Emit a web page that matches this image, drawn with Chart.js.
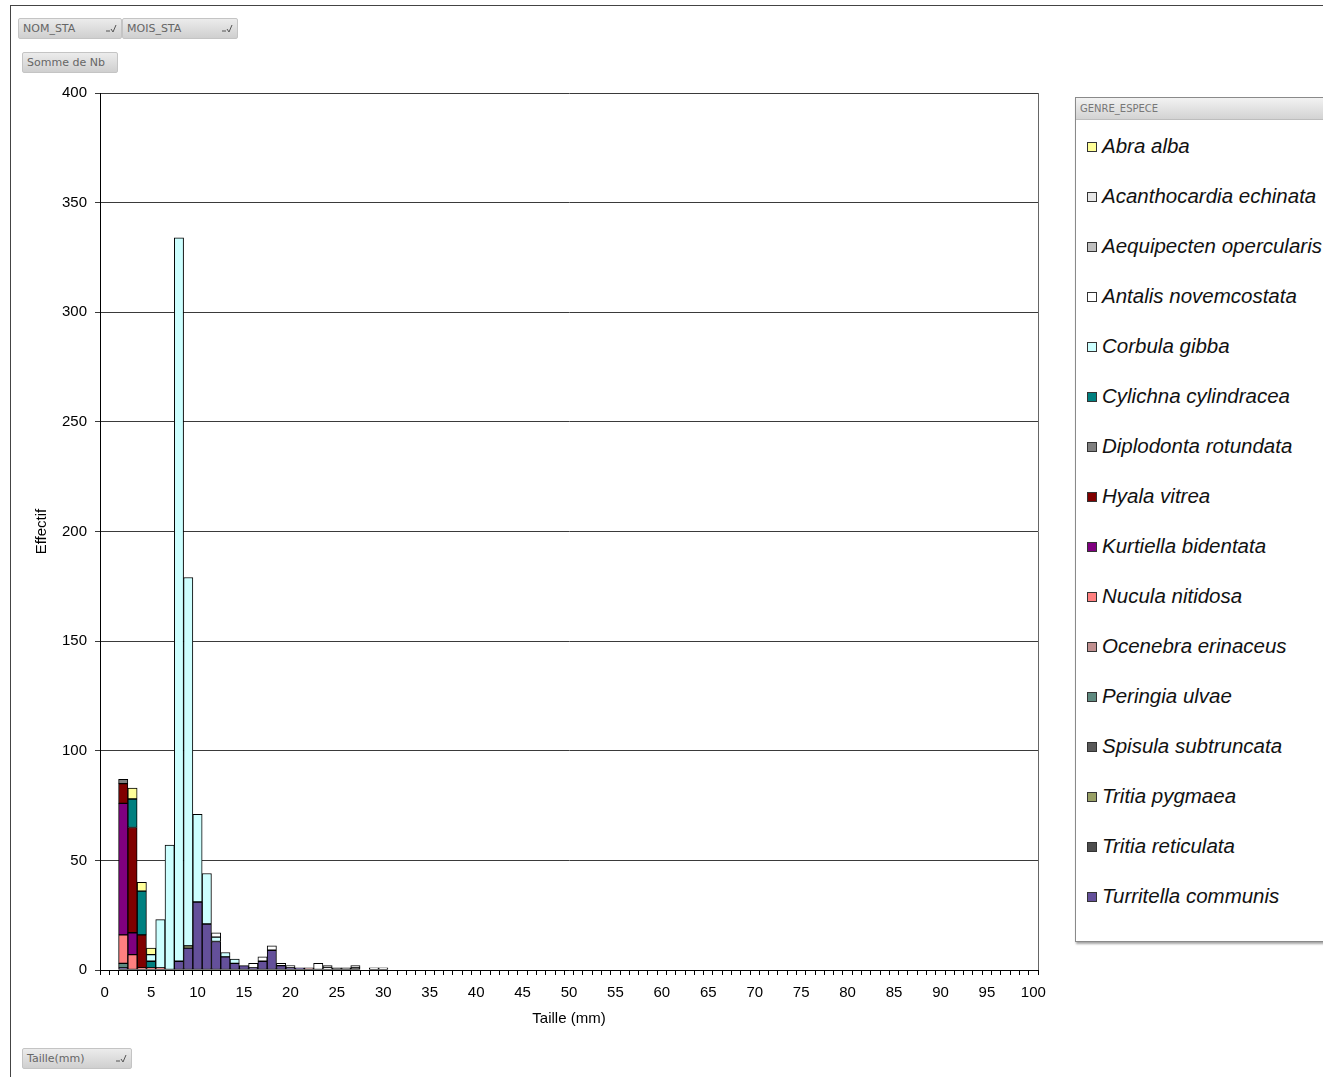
<!DOCTYPE html>
<html>
<head>
<meta charset="utf-8">
<script src="https://cdn.jsdelivr.net/npm/chart.js@4.4.0/dist/chart.umd.min.js"></script>
<style>
  html, body { margin: 0; padding: 0; background: #fff; overflow: hidden; }
  body { width: 1323px; height: 1077px; position: relative; font-family: "Liberation Sans", Arial, sans-serif; }
  #frame { position: absolute; left: 10px; top: 5px; width: 1400px; height: 1200px; border-left: 1px solid #444; border-top: 1px solid #444; }
  .btn { position: absolute; height: 21px; line-height: 20px; font-family: "DejaVu Sans", sans-serif; font-size: 11px; color: #666;
         background: linear-gradient(#ececec, #cfcfcf); border: 1px solid #c4c4c4; border-radius: 2px; padding-left: 4px; box-sizing: border-box; }
  .btn svg { position: absolute; right: 4px; top: 4px; }
  #wrap { position: absolute; left: 14px; top: 76px; width: 1048px; height: 964px; }
  #legend { position: absolute; left: 1075px; top: 97px; width: 280px; height: 843px; border: 1px solid #8a8a8a; background: #fff;
            box-shadow: 1px 2px 2px rgba(0,0,0,0.35); }
  #legend .hdr { height: 21px; line-height: 21px; background: linear-gradient(#f2f2f2, #d3d3d3); border-bottom: 1px solid #bdbdbd;
                 font-family: "DejaVu Sans", sans-serif; font-size: 10px; color: #777; padding-left: 4px; }
  .item { position: absolute; left: 11px; height: 24px; line-height: 24px; font-style: italic; font-size: 20.5px; color: #111; white-space: nowrap; }
  .sw { display: inline-block; width: 8px; height: 8px; border: 1px solid #333; margin-right: 5px; vertical-align: 1px; }
</style>
</head>
<body>
<div id="frame"></div>
<div class="btn" style="left:18px;top:18px;width:104px;">NOM_STA<svg width="12" height="10"><path d="M1 8H5M6 6L8 9L11 2" stroke="#555" fill="none"/></svg></div>
<div class="btn" style="left:122px;top:18px;width:116px;">MOIS_STA<svg width="12" height="10"><path d="M1 8H5M6 6L8 9L11 2" stroke="#555" fill="none"/></svg></div>
<div class="btn" style="left:22px;top:52px;width:96px;">Somme de Nb</div>
<div class="btn" style="left:22px;top:1048px;width:110px;">Taille(mm)<svg width="12" height="10"><path d="M1 8H5M6 6L8 9L11 2" stroke="#555" fill="none"/></svg></div>

<div id="wrap"><canvas id="histo" width="1048" height="964"></canvas></div>
<div id="legend"><div class="hdr">GENRE_ESPECE</div></div>

<script>
// size classes (mm) on the x axis
const sizes = [];
for (let s = 0; s <= 100; s++) sizes.push(String(s));

// counts per size class, index = size in mm (0..30)
//                     0  1  2   3   4  5  6   7    8    9  10  11  12 13 14 15 16 17 18 19 20 21 22 23 24 25 26 27 28 29 30
const abraAlba      = [0, 0, 0,  5,  4, 3, 0,  0,   0,   0,  0,  0,  0, 0, 0, 0, 0, 0, 0, 0, 0, 0, 0, 0, 0, 0, 0, 0, 0, 0, 0];
const acanthocardia = [0, 0, 0,  0,  0, 0, 0,  0,   0,   0,  0,  0,  0, 0, 0, 0, 0, 0, 0, 0, 0, 0, 0, 0, 0, 0, 0, 1, 0, 0, 0];
const aequipecten   = [0, 0, 0,  0,  0, 0, 0,  0,   0,   0,  0,  0,  0, 0, 0, 0, 0, 0, 0, 0, 0, 0, 0, 0, 1, 0, 0, 0, 0, 0, 0];
const antalis       = [0, 0, 0,  0,  0, 0, 0,  0,   0,   0,  0,  0,  2, 0, 0, 0, 2, 2, 2, 1, 1, 0, 0, 3, 1, 0, 0, 0, 0, 1, 1];
const corbula       = [0, 0, 0,  0,  0, 3, 22, 57, 330, 168, 40, 23,  2, 2, 2, 0, 0, 0, 0, 0, 0, 0, 0, 0, 0, 0, 0, 0, 0, 0, 0];
const cylichna      = [0, 0, 0, 13, 20, 3, 0,  0,   0,   0,  0,  0,  0, 0, 0, 0, 0, 0, 0, 0, 0, 0, 0, 0, 0, 0, 0, 0, 0, 0, 0];
const diplodonta    = [0, 0, 2,  0,  0, 0, 0,  0,   0,   0,  0,  0,  0, 0, 0, 0, 0, 0, 0, 0, 0, 0, 0, 0, 0, 0, 1, 0, 0, 0, 0];
const hyala         = [0, 0, 9, 48, 15, 0, 0,  0,   0,   0,  0,  0,  0, 0, 0, 0, 0, 0, 0, 0, 0, 0, 0, 0, 0, 0, 0, 0, 0, 0, 0];
const kurtiella     = [0, 0, 60, 10, 0, 0, 0,  0,   0,   0,  0,  0,  0, 0, 0, 0, 0, 0, 0, 0, 0, 0, 0, 0, 0, 0, 0, 0, 0, 0, 0];
const nucula        = [0, 0, 13, 7,  1, 1, 1,  0,   0,   0,  0,  0,  0, 0, 0, 0, 0, 0, 0, 0, 0, 0, 0, 0, 0, 0, 0, 0, 0, 0, 0];
const ocenebra      = [0, 0, 0,  0,  0, 0, 0,  0,   0,   0,  0,  0,  0, 0, 0, 0, 0, 0, 0, 0, 0, 0, 1, 0, 0, 0, 0, 0, 0, 0, 0];
const peringia      = [0, 0, 2,  0,  0, 0, 0,  0,   0,   0,  0,  0,  0, 0, 0, 0, 0, 0, 0, 0, 0, 0, 0, 0, 0, 0, 0, 0, 0, 0, 0];
const spisula       = [0, 0, 0,  0,  0, 0, 0,  0,   0,   0,  0,  0,  0, 0, 0, 0, 0, 0, 0, 0, 0, 0, 0, 0, 0, 1, 0, 0, 0, 0, 0];
const tritiaPygmaea = [0, 0, 0,  0,  0, 0, 0,  0,   0,   1,  0,  0,  0, 0, 0, 0, 0, 0, 0, 0, 0, 0, 0, 0, 0, 0, 0, 0, 0, 0, 0];
const tritiaRetic   = [0, 0, 0,  0,  0, 0, 0,  0,   0,   0,  0,  0,  0, 0, 0, 0, 0, 0, 0, 0, 0, 0, 0, 0, 0, 0, 0, 1, 0, 0, 0];
const turritella    = [0, 0, 1,  0,  0, 0, 0,  0,   4,  10, 31, 21, 13, 6, 3, 2, 1, 4, 9, 2, 1, 1, 0, 0, 0, 0, 0, 0, 0, 0, 0];

// stacking order: first = bottom of the column
const series = [
  ['Turritella communis', turritella, '#64509A'],
  ['Tritia reticulata', tritiaRetic, '#4D4D4D'],
  ['Tritia pygmaea', tritiaPygmaea, '#99A066'],
  ['Spisula subtruncata', spisula, '#595959'],
  ['Peringia ulvae', peringia, '#5F8A80'],
  ['Ocenebra erinaceus', ocenebra, '#C09090'],
  ['Nucula nitidosa', nucula, '#FF8080'],
  ['Kurtiella bidentata', kurtiella, '#800080'],
  ['Hyala vitrea', hyala, '#800000'],
  ['Diplodonta rotundata', diplodonta, '#7F7F7F'],
  ['Cylichna cylindracea', cylichna, '#008080'],
  ['Corbula gibba', corbula, '#CCFFFF'],
  ['Antalis novemcostata', antalis, '#FFFFFF'],
  ['Aequipecten opercularis', aequipecten, '#BFBFBF'],
  ['Acanthocardia echinata', acanthocardia, '#E6E6E6'],
  ['Abra alba', abraAlba, '#FFFF99']
];

const rightEdge = {
  id: 'rightEdge',
  beforeDatasetsDraw(chart) {
    const a = chart.chartArea, c = chart.ctx;
    c.save();
    c.strokeStyle = '#666';
    c.lineWidth = 1;
    c.beginPath();
    c.moveTo(Math.round(a.right) + 0.5, a.top);
    c.lineTo(Math.round(a.right) + 0.5, a.bottom);
    c.stroke();
    c.restore();
  }
};

const ctx = document.getElementById('histo').getContext('2d');
const chart = new Chart(ctx, {
  type: 'bar',
  data: {
    labels: sizes,
    datasets: series.map(([name, vals, col]) => ({
      label: name,
      data: vals.map(v => v || null),
      backgroundColor: col,
      borderColor: '#000',
      borderWidth: 1,
      borderSkipped: false,
      categoryPercentage: 1,
      barPercentage: 1
    }))
  },
  options: {
    responsive: false,
    animation: false,
    devicePixelRatio: 1,
    layout: { padding: { left: 0, right: 24, top: 13, bottom: 0 } },
    plugins: { legend: { display: false }, tooltip: { enabled: false } },
    scales: {
      x: {
        stacked: true,
        afterFit: s => { s.height = 70; },
        grid: { drawOnChartArea: false, color: '#000', tickLength: 5 },
        border: { color: '#000' },
        ticks: {
          autoSkip: false, maxRotation: 0, padding: 9, color: '#000',
          font: { family: 'Liberation Sans', size: 15 },
          callback: function(v) { return v % 5 === 0 ? this.getLabelForValue(v) : ''; }
        },
        title: { display: true, text: 'Taille (mm)', color: '#000',
                 font: { family: 'Liberation Sans', size: 15 }, padding: { top: 0, bottom: 12 } }
      },
      y: {
        stacked: true,
        min: 0, max: 400,
        afterFit: s => { s.width = 86; },
        grid: { color: '#3a3a3a', tickLength: 5 },
        border: { color: '#000' },
        ticks: { stepSize: 50, padding: 8, color: '#000', font: { family: 'Liberation Sans', size: 15 } },
        title: { display: true, text: 'Effectif', color: '#000',
                 font: { family: 'Liberation Sans', size: 15 }, padding: { top: 19, bottom: 0 } }
      }
    }
  },
  plugins: [rightEdge]
});

// legend box, alphabetical like the pivot field list
const legendBox = document.getElementById('legend');
chart.data.datasets.slice().reverse().forEach((ds, i) => {
  const it = document.createElement('div');
  it.className = 'item';
  it.style.top = (36 + 50 * i) + 'px';
  const sw = document.createElement('span');
  sw.className = 'sw';
  sw.style.background = ds.backgroundColor;
  it.appendChild(sw);
  it.appendChild(document.createTextNode(ds.label));
  legendBox.appendChild(it);
});
</script>
</body>
</html>
